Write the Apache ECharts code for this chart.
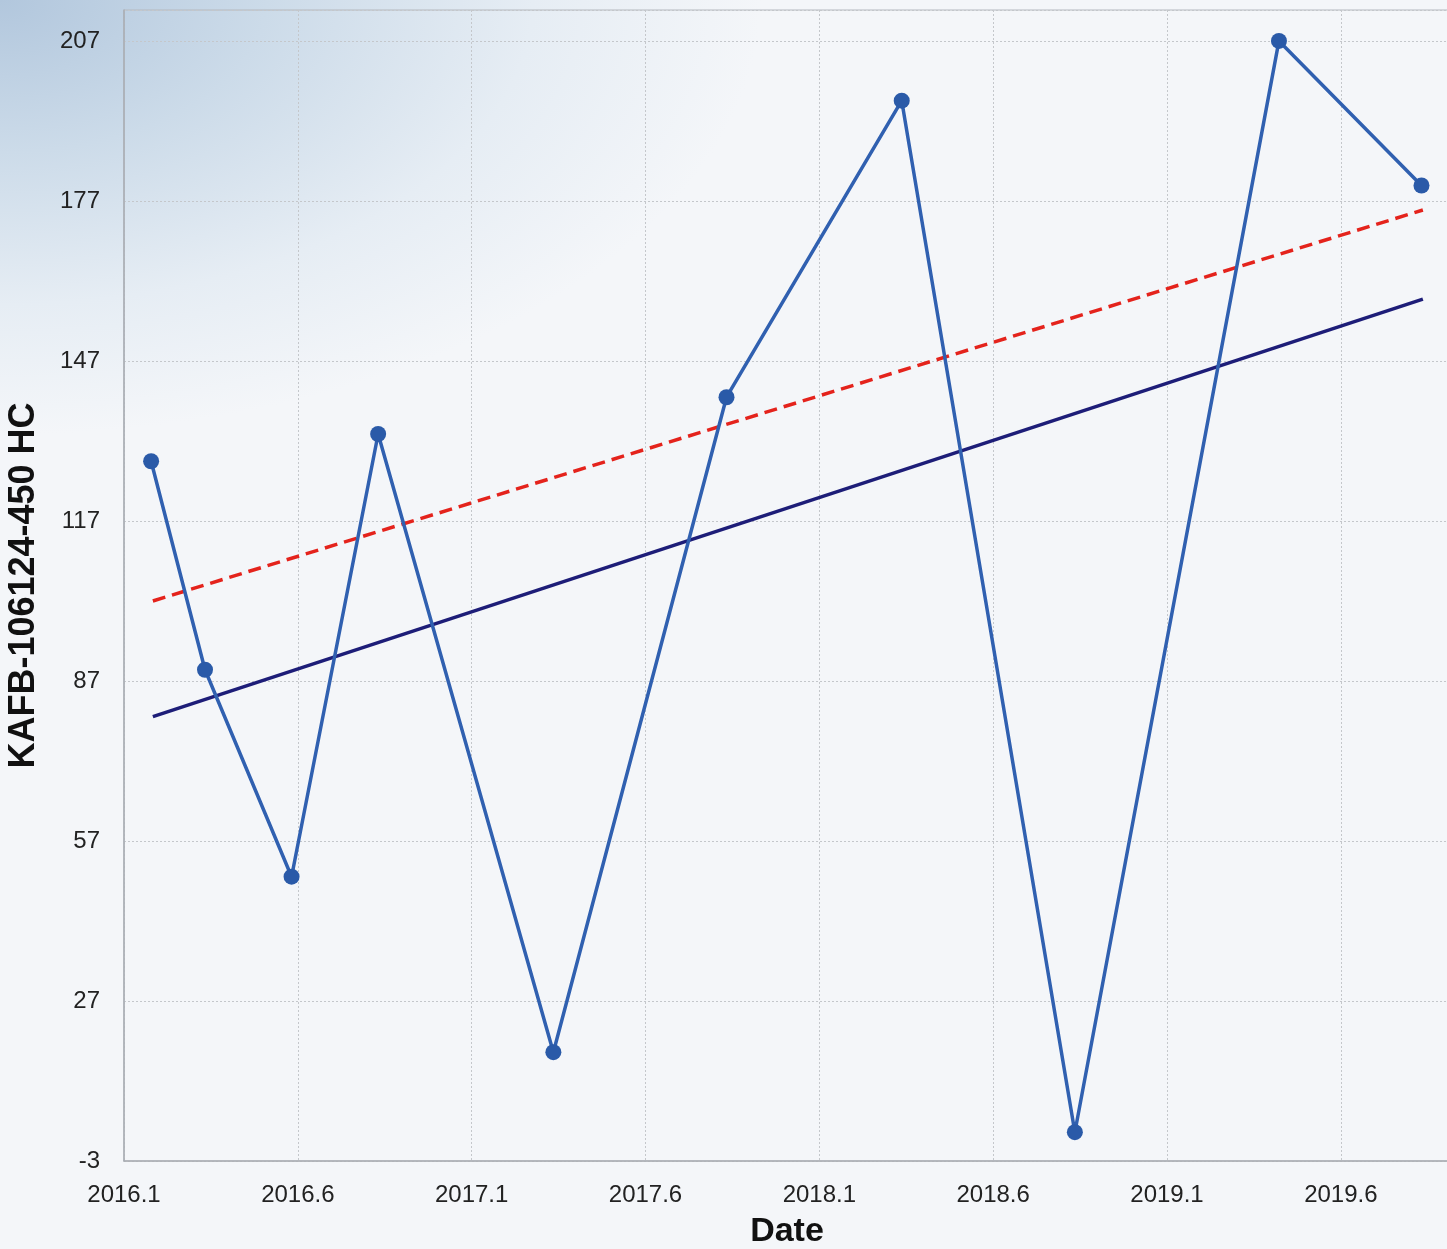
<!DOCTYPE html>
<html>
<head>
<meta charset="utf-8">
<script src="https://cdn.jsdelivr.net/npm/echarts@6/dist/echarts.min.js"></script>
<style>
html,body{margin:0;padding:0;background:#f4f6f9;}
#c{width:1447px;height:1249px;}
</style>
</head>
<body>
<div id="c"></div>
<script>
// Sample dates (decimal years) and measured values
var dates  = [2016.178, 2016.333, 2016.582, 2016.831, 2017.335, 2017.833, 2018.337, 2018.835, 2019.422, 2019.832];
var values = [128.2, 89.1, 50.3, 133.3, 17.4, 140.2, 195.8, 2.4, 207.0, 179.9];
// Trend line endpoints
var trendDates  = [2016.183, 2019.836];
var trendValues = [80.3, 158.6];
// Upper (dashed) line endpoints
var upperDates  = [2016.183, 2019.836];
var upperValues = [102.0, 175.3];
// Axis settings
var xTickStart = 2016.1, xTickStep = 0.5;
var yTickStart = -3, yTickStep = 30;

function pairs(xs, ys){ return xs.map(function(x,i){ return [x, ys[i]]; }); }

var chart = echarts.init(document.getElementById('c'), null, {renderer:'canvas'});
var font = '"Liberation Sans", Arial, sans-serif';
chart.setOption({
  animation: false,
  backgroundColor: 'transparent',
  graphic: [{
    type: 'rect', z: -10, silent: true,
    shape: {x: 0, y: 0, width: 870, height: 1249},
    scaleX: 1.75,
    style: {
      fill: new echarts.graphic.RadialGradient(0, 0, 0.5, [
        {offset: 0, color: '#b2c7dd'},
        {offset: 0.35, color: '#ccdbe9'},
        {offset: 0.7, color: '#e6edf4'},
        {offset: 1, color: '#f4f6f9'}
      ])
    }
  }],
  grid: {
    left: 124, right: -3, top: 10, bottom: 88,
    outerBoundsMode: 'none',
    containLabel: false,
    show: true, backgroundColor: 'transparent',
    borderColor: '#b4b8be', borderWidth: 1
  },
  xAxis: {
    type: 'value',
    min: 2016.1, max: 2019.914, interval: xTickStep,
    name: 'Date', nameLocation: 'middle', nameGap: 54,
    nameTextStyle: {fontFamily: font, fontSize: 34, fontWeight: 'bold', color: '#111'},
    axisLine: {show: true, onZero: false, lineStyle: {color: '#a9adb3', width: 1.5}},
    axisTick: {show: false},
    axisLabel: {
      fontFamily: font, fontSize: 24, color: '#222', margin: 22,
      formatter: function(v){
        var k = (v - xTickStart) / xTickStep;
        if (Math.abs(k - Math.round(k)) > 1e-6) return '';
        return v.toFixed(1);
      }
    },
    splitLine: {show: true, lineStyle: {color: '#c4c7cb', type: [2, 2], width: 1}}
  },
  yAxis: {
    type: 'value',
    min: -3, max: 212.8, interval: yTickStep,
    name: 'KAFB-106124-450 HC', nameLocation: 'middle', nameGap: 82,
    nameTextStyle: {fontFamily: font, fontSize: 36, fontWeight: 'bold', color: '#111'},
    axisLine: {show: true, onZero: false, lineStyle: {color: '#a9adb3', width: 1.5}},
    axisTick: {show: false},
    axisLabel: {
      fontFamily: font, fontSize: 24, color: '#222', margin: 24,
      formatter: function(v){
        var k = (v - yTickStart) / yTickStep;
        if (Math.abs(k - Math.round(k)) > 1e-6) return '';
        return String(Math.round(v));
      }
    },
    splitLine: {show: true, lineStyle: {color: '#c4c7cb', type: [2, 2], width: 1}}
  },
  series: [
    {
      type: 'line', data: pairs(upperDates, upperValues), symbol: 'none',
      lineStyle: {color: '#e4231c', width: 3.5, type: [13, 7]}, z: 2
    },
    {
      type: 'line', data: pairs(trendDates, trendValues), symbol: 'none',
      lineStyle: {color: '#1d1d78', width: 3.5}, z: 3
    },
    {
      type: 'line', data: pairs(dates, values),
      symbol: 'circle', symbolSize: 16,
      itemStyle: {color: '#2a5aa8'},
      lineStyle: {color: '#3060b0', width: 3.5}, z: 4
    }
  ]
});
</script>
</body>
</html>
